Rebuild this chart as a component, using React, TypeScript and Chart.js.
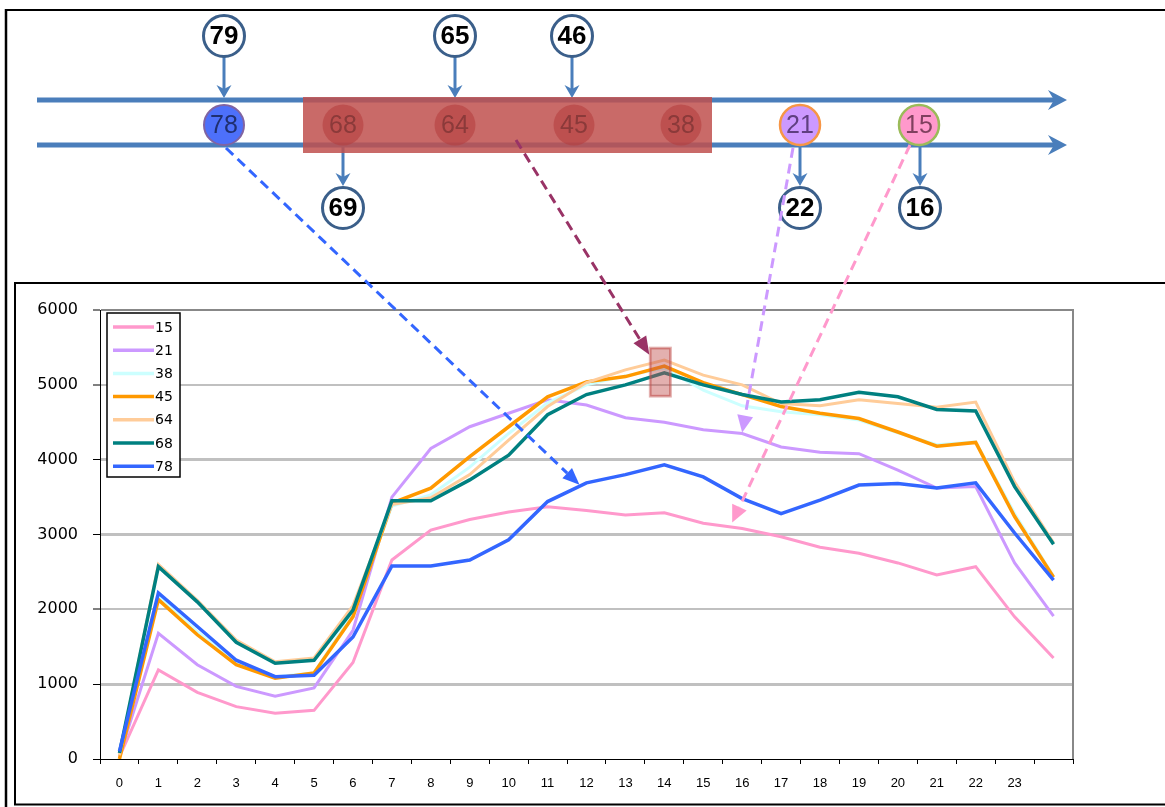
import React, { useEffect, useRef } from 'react';
import { Chart, registerables } from 'chart.js';

Chart.register(...registerables);

// ---------------- data ----------------
const hours = ['0', '1', '2', '3', '4', '5', '6', '7', '8', '9', '10', '11', '12', '13', '14', '15', '16', '17', '18', '19', '20', '21', '22', '23', ''];
const seriesNames = ['15', '21', '38', '45', '64', '68', '78'];
const seriesColors = ['#ff99cc', '#cc99ff', '#ccffff', '#ff9900', '#ffcc99', '#008080', '#3366ff'];
const seriesWidths = [3, 3, 3, 3.5, 3, 3.5, 3.5];

const s15 = [30, 1190, 890, 700, 610, 650, 1290, 2660, 3060, 3200, 3300, 3370, 3320, 3260, 3290, 3150, 3080, 2970, 2830, 2750, 2620, 2460, 2570, 1900, 1350];
const s21 = [40, 1680, 1260, 970, 840, 950, 1720, 3500, 4150, 4440, 4620, 4800, 4730, 4560, 4500, 4400, 4350, 4170, 4100, 4080, 3860, 3620, 3640, 2620, 1910];
const s38 = [50, 2180, 1700, 1290, 1100, 1150, 1950, 3380, 3530, 3900, 4350, 4760, 5000, 5120, 5220, 4930, 4720, 4640, 4600, 4530, 4360, 4200, 4240, 3280, 2440];
const s45 = [0, 2130, 1660, 1260, 1080, 1150, 1900, 3420, 3620, 4040, 4440, 4840, 5040, 5110, 5250, 5030, 4870, 4710, 4620, 4550, 4370, 4180, 4230, 3240, 2430];
const s64 = [50, 2600, 2120, 1590, 1300, 1350, 2050, 3400, 3490, 3800, 4260, 4710, 5030, 5200, 5330, 5130, 5000, 4750, 4720, 4800, 4750, 4700, 4770, 3700, 2890];
const s68 = [80, 2570, 2100, 1560, 1280, 1320, 1990, 3450, 3450, 3730, 4060, 4600, 4870, 5000, 5160, 5000, 4870, 4770, 4800, 4900, 4840, 4670, 4650, 3640, 2870];
const s78 = [100, 2220, 1770, 1320, 1100, 1120, 1630, 2580, 2580, 2660, 2930, 3440, 3690, 3800, 3930, 3770, 3480, 3280, 3460, 3660, 3680, 3620, 3690, 3020, 2390];
const seriesValues = [s15, s21, s38, s45, s64, s68, s78];

const yMin = 0;
const yMax = 6000;
const yStep = 1000;

// diagram node labels
const topNodes = ['79', '65', '46'];
const middleNodes = ['78', '68', '64', '45', '38', '21', '15'];
const bottomNodes = ['69', '22', '16'];

// highlighted region in chart (hour index and value range)
const highlightIndex = 14;
const highlightRange = [4830, 5510];

// ---------------- drawing helpers ----------------
const STEEL = '#4a7ebb';
const NODE_BORDER = '#3b5f8a';

function ellipse(ctx: CanvasRenderingContext2D, x: number, y: number, r: number, fill: string, stroke: string | null, lw: number) {
  ctx.beginPath();
  ctx.arc(x, y, r, 0, Math.PI * 2);
  ctx.fillStyle = fill;
  ctx.fill();
  if (stroke) {
    ctx.lineWidth = lw;
    ctx.strokeStyle = stroke;
    ctx.stroke();
  }
}

function text(ctx: CanvasRenderingContext2D, s: string, x: number, y: number, font: string, color: string) {
  ctx.font = font;
  ctx.fillStyle = color;
  ctx.textAlign = 'center';
  ctx.textBaseline = 'middle';
  ctx.fillText(s, x, y + 1);
}

function solidArrowDown(ctx: CanvasRenderingContext2D, x: number, y1: number, y2: number) {
  ctx.strokeStyle = STEEL;
  ctx.fillStyle = STEEL;
  ctx.lineWidth = 3;
  ctx.beginPath();
  ctx.moveTo(x, y1);
  ctx.lineTo(x, y2 - 6);
  ctx.stroke();
  ctx.beginPath();
  ctx.moveTo(x, y2);
  ctx.lineTo(x - 7.5, y2 - 13);
  ctx.lineTo(x, y2 - 9);
  ctx.lineTo(x + 7.5, y2 - 13);
  ctx.closePath();
  ctx.fill();
}

function bigArrowRight(ctx: CanvasRenderingContext2D, x1: number, x2: number, y: number) {
  ctx.strokeStyle = STEEL;
  ctx.fillStyle = STEEL;
  ctx.lineWidth = 5;
  ctx.beginPath();
  ctx.moveTo(x1, y);
  ctx.lineTo(x2 - 8, y);
  ctx.stroke();
  ctx.beginPath();
  ctx.moveTo(x2, y);
  ctx.lineTo(x2 - 19, y - 10);
  ctx.lineTo(x2 - 13, y);
  ctx.lineTo(x2 - 19, y + 10);
  ctx.closePath();
  ctx.fill();
}

function dashedArrow(ctx: CanvasRenderingContext2D, x1: number, y1: number, x2: number, y2: number, color: string, headLen = 17, headW = 14) {
  const a = Math.atan2(y2 - y1, x2 - x1);
  const c = Math.cos(a);
  const s = Math.sin(a);
  const bx = x2 - headLen * c;
  const by = y2 - headLen * s;
  ctx.save();
  ctx.strokeStyle = color;
  ctx.fillStyle = color;
  ctx.lineWidth = 3;
  ctx.setLineDash([10, 6]);
  ctx.beginPath();
  ctx.moveTo(x1, y1);
  ctx.lineTo(bx, by);
  ctx.stroke();
  ctx.setLineDash([]);
  ctx.beginPath();
  ctx.moveTo(x2, y2);
  ctx.lineTo(bx - (headW / 2) * s, by + (headW / 2) * c);
  ctx.lineTo(bx + (headW / 2) * s, by - (headW / 2) * c);
  ctx.closePath();
  ctx.fill();
  ctx.restore();
}

const overlayPlugin = {
  id: 'overlay',
  afterDraw(chart: any) {
    const ctx: CanvasRenderingContext2D = chart.ctx;
    const xs = chart.scales.x;
    const ys = chart.scales.y;
    const area = chart.chartArea;
    ctx.save();

    // plot right border
    ctx.strokeStyle = '#888888';
    ctx.lineWidth = 2;
    ctx.beginPath();
    ctx.moveTo(area.right, area.top - 1);
    ctx.lineTo(area.right, area.bottom);
    ctx.stroke();

    // frames
    ctx.strokeStyle = '#000';
    ctx.lineWidth = 2;
    ctx.beginPath();
    ctx.moveTo(5, 10); ctx.lineTo(1165, 10);
    ctx.stroke();
    ctx.lineWidth = 2.5;
    ctx.beginPath();
    ctx.moveTo(6, 9); ctx.lineTo(6, 807);
    ctx.stroke();
    ctx.lineWidth = 2;
    ctx.beginPath();
    ctx.moveTo(14, 283); ctx.lineTo(1165, 283);
    ctx.moveTo(15, 283); ctx.lineTo(15, 805);
    ctx.moveTo(14, 804.5); ctx.lineTo(1165, 804.5);
    ctx.stroke();

    // legend
    ctx.fillStyle = '#fff';
    ctx.fillRect(107, 313, 73, 164);
    ctx.strokeStyle = '#000';
    ctx.lineWidth = 1.5;
    ctx.strokeRect(107, 313, 73, 164);
    seriesNames.forEach((name, i) => {
      const y = 327 + i * 23.2;
      ctx.strokeStyle = seriesColors[i];
      ctx.lineWidth = 3.5;
      ctx.beginPath();
      ctx.moveTo(113, y);
      ctx.lineTo(154, y);
      ctx.stroke();
      ctx.font = '14px "DejaVu Sans"';
      ctx.fillStyle = '#000';
      ctx.textAlign = 'left';
      ctx.textBaseline = 'middle';
      ctx.fillText(name, 155, y + 1);
    });

    // highlight rectangle in chart
    const hx = xs.getPixelForValue(highlightIndex) - 4;
    const hy1 = ys.getPixelForValue(highlightRange[1]);
    const hy2 = ys.getPixelForValue(highlightRange[0]);
    ctx.fillStyle = 'rgba(192,80,77,0.45)';
    ctx.fillRect(hx - 11.5, hy1, 23, hy2 - hy1);
    ctx.strokeStyle = 'rgba(192,80,77,0.6)';
    ctx.lineWidth = 1.5;
    ctx.strokeRect(hx - 9.5, hy1 + 2, 19, hy2 - hy1 - 4);

    // ------- top diagram -------
    const topX = [224, 455, 572];
    const midX = [224, 343, 455, 574, 681, 800, 919];
    const botX = [343, 800, 920];
    const lineY1 = 100;
    const lineY2 = 145;
    const midY = 125;

    bigArrowRight(ctx, 37, 1067, lineY1);
    bigArrowRight(ctx, 37, 1067, lineY2);

    // top nodes + arrows
    topNodes.forEach((lab, i) => {
      solidArrowDown(ctx, topX[i], 57, lineY1 - 2);
      ellipse(ctx, topX[i], 36, 20.5, '#fff', NODE_BORDER, 3);
      text(ctx, lab, topX[i], 36, 'bold 26px Arial', '#000');
    });
    // bottom arrows + nodes
    bottomNodes.forEach((lab, i) => {
      solidArrowDown(ctx, botX[i], lineY2 + 2, 186);
      ellipse(ctx, botX[i], 208, 20.5, '#fff', NODE_BORDER, 3);
      text(ctx, lab, botX[i], 208, 'bold 26px Arial', '#000');
    });

    // middle nodes
    ellipse(ctx, midX[0], midY, 20, '#4d70fa', '#8064a2', 2);
    text(ctx, middleNodes[0], midX[0], midY, '25px Arial', '#1f2f70');
    ctx.fillStyle = 'rgba(192,80,77,0.85)';
    ctx.fillRect(303, 97, 409, 56);
    for (let i = 1; i <= 4; i++) {
      ellipse(ctx, midX[i], midY, 20.5, 'rgba(180,60,60,0.55)', null, 0);
      text(ctx, middleNodes[i], midX[i], midY, '25px Arial', '#8b3a3a');
    }
    ellipse(ctx, midX[5], midY, 20, '#cc99ff', '#f79646', 2.5);
    text(ctx, middleNodes[5], midX[5], midY, '25px Arial', '#5f3f80');
    ellipse(ctx, midX[6], midY, 20, '#ff99cc', '#9bbb59', 2.5);
    text(ctx, middleNodes[6], midX[6], midY, '25px Arial', '#80405f');

    // ------- dashed annotation arrows -------
    const px = (i: number) => xs.getPixelForValue(i);
    const py = (v: number) => ys.getPixelForValue(v);
    dashedArrow(ctx, 226, 148, px(12) - 7, py(s78[12]) + 2, '#3366ff');
    dashedArrow(ctx, 516, 140, hx - 11, hy1 + 8, '#993366', 18, 15);
    dashedArrow(ctx, 793, 148, px(16), py(s21[16]) - 1, '#cc99ff', 17, 16);
    dashedArrow(ctx, 910, 145, px(16) - 10, py(s15[16]) - 6, '#ff99cc', 17, 16);

    ctx.restore();
  },
};

export default function App() {
  const ref = useRef<HTMLCanvasElement | null>(null);
  useEffect(() => {
    if (!ref.current) return;
    const chart = new Chart(ref.current, {
      type: 'line',
      data: {
        labels: hours,
        datasets: seriesNames.map((name, i) => ({
          label: name,
          data: seriesValues[i],
          borderColor: seriesColors[i],
          backgroundColor: seriesColors[i],
          borderWidth: seriesWidths[i],
          pointRadius: 0,
          tension: 0,
          fill: false,
          order: seriesNames.length - 1 - i,
        })),
      },
      options: {
        responsive: false,
        animation: false,
        events: [],
        layout: { padding: { left: 20, top: 310, right: 92, bottom: 0 } },
        plugins: {
          legend: { display: false },
          tooltip: { enabled: false },
          title: { display: false },
        },
        scales: {
          x: {
            type: 'category',
            offset: true,
            grid: {
              display: true,
              offset: true,
              drawOnChartArea: false,
              drawTicks: true,
              tickLength: 5,
              tickColor: '#000',
              tickWidth: 1,
              color: '#000',
            },
            border: { display: true, color: '#000', width: 1 },
            ticks: {
              color: '#000',
              font: { family: 'Arial', size: 13 },
              padding: 12,
              maxRotation: 0,
              autoSkip: false,
            },
            afterFit: (s: any) => { s.height = 48; },
          },
          y: {
            min: yMin,
            max: yMax,
            ticks: {
              stepSize: yStep,
              color: '#000',
              font: { family: 'DejaVu Sans', size: 16 },
              padding: 15,
              callback: (v: any) => String(v),
            },
            grid: {
              color: (c: any) => {
                const v = c.tick ? c.tick.value : 0;
                if (v === 0) return 'rgba(0,0,0,0)';
                if (v === 6000) return '#888888';
                return '#c0c0c0';
              },
              lineWidth: (c: any) => {
                const v = c.tick ? c.tick.value : 0;
                if (v === 2000 || v === 5000 || v === 6000) return 2;
                return 3;
              },
              tickColor: '#000',
              tickLength: 7,
              tickWidth: 1,
            },
            border: { display: true, color: '#000', width: 1 },
            afterFit: (s: any) => { s.width = 80; },
          },
        },
      },
      plugins: [overlayPlugin],
    });
    return () => chart.destroy();
  }, []);

  return (
    <div style={{ position: 'absolute', left: 0, top: 0, width: 1165, height: 807, background: '#fff' }}>
      <canvas ref={ref} width={1165} height={807} style={{ display: 'block', width: 1165, height: 807 }} />
    </div>
  );
}
